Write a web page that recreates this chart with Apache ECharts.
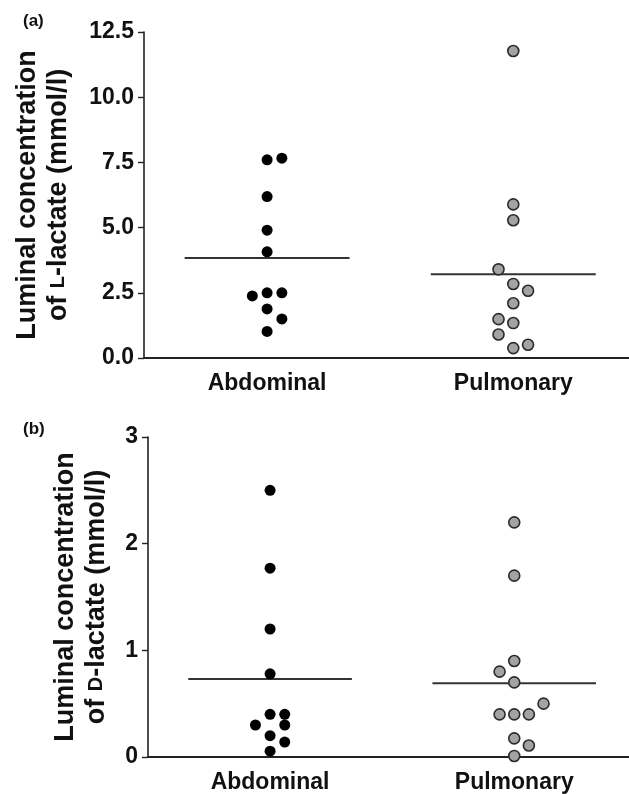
<!DOCTYPE html>
<html>
<head>
<meta charset="utf-8">
<script src="https://cdn.jsdelivr.net/npm/echarts@6/dist/echarts.min.js"></script>
<style>
html,body{margin:0;padding:0;background:#fff;}
#main{width:629px;height:794px;}
</style>
</head>
<body>
<div id="main"></div>
<script>
// ---- data ----
const groups = ['Abdominal', 'Pulmonary'];

// (a) L-lactate (mmol/l); *Col = beeswarm column of each dot (-1 left, 0 centre, +1 right ...)
const lLactateAbdominal    = [7.60, 7.66, 6.19, 4.90, 4.07, 2.38, 2.50, 2.50, 1.88, 1.50, 1.02];
const lLactateAbdominalCol = [0, 1, 0, 0, 0, -1, 0, 1, 0, 1, 0];
const lLactatePulmonary    = [11.77, 5.89, 5.28, 3.40, 2.84, 2.58, 2.10, 1.49, 1.34, 0.90, 0.38, 0.51];
const lLactatePulmonaryCol = [0, 0, 0, -1, 0, 1, 0, -1, 0, -1, 0, 1];

// (b) D-lactate (mmol/l)
const dLactateAbdominal    = [2.50, 1.77, 1.20, 0.78, 0.40, 0.40, 0.30, 0.30, 0.20, 0.14, 0.055];
const dLactateAbdominalCol = [0, 0, 0, 0, 0, 1, -1, 1, 0, 1, 0];
const dLactatePulmonary    = [2.20, 1.70, 0.90, 0.80, 0.70, 0.50, 0.40, 0.40, 0.40, 0.175, 0.108, 0.01];
const dLactatePulmonaryCol = [0, 0, 0, -1, 0, 2, -1, 0, 1, 0, 1, 0];

const yTicksA = [0, 2.5, 5, 7.5, 10, 12.5];
const yTicksB = [0, 1, 2, 3];

// ---- building ----
const COL_STEP = 0.06;      // horizontal spacing of swarm columns (x units)
const MEAN_HALF = 0.335;    // half-width of the mean line (x units)
const FONT = 'Liberation Sans, Arial, Helvetica, sans-serif';

function pts(gi, vals, cols) { return vals.map((v, i) => [gi + cols[i] * COL_STEP, v]); }
function mean(a) { return a.reduce((s, v) => s + v, 0) / a.length; }
function meanLine(gi, vals) { const m = mean(vals); return [[gi - MEAN_HALF, m], [gi + MEAN_HALF, m]]; }

const blackDot = { color: '#000', borderColor: '#000', borderWidth: 0, opacity: 1 };
const greyDot = { color: '#a3a3a3', borderColor: '#2b2b2b', borderWidth: 1.6, opacity: 1 };

function xAxisFor(gridIndex) {
  return {
    type: 'value', gridIndex, min: -0.5, max: 1.47,
    splitLine: { show: false },
    axisLine: { show: true, onZero: false, lineStyle: { color: '#222', width: 2 } },
    axisTick: { show: false },
    axisLabel: {
      customValues: [0, 1],
      formatter: v => groups[Math.round(v)],
      margin: 14, fontSize: 23, fontWeight: 'bold', color: '#111', fontFamily: FONT
    }
  };
}
function yAxisFor(gridIndex, ticks, fmt, name, gap) {
  return {
    type: 'value', gridIndex, min: ticks[0], max: ticks[ticks.length - 1],
    interval: ticks[1] - ticks[0],
    splitLine: { show: false },
    axisLine: { show: true, onZero: false, lineStyle: { color: '#222', width: 1.6 } },
    axisTick: { show: true, length: 6, lineStyle: { color: '#222', width: 1.4 } },
    axisLabel: { formatter: fmt, margin: 10, fontSize: 23, fontWeight: 'bold', color: '#111', fontFamily: FONT },
    name, nameLocation: 'middle', nameGap: gap,
    nameTextStyle: {
      fontSize: 27, fontWeight: 'bold', color: '#111', fontFamily: FONT, lineHeight: 31,
      rich: { sc: { fontSize: 20, fontWeight: 'bold', color: '#111', fontFamily: FONT, lineHeight: 31 } }
    }
  };
}

function scatter(xi, vals, cols, gi, style) {
  return {
    type: 'scatter', xAxisIndex: xi, yAxisIndex: xi, data: pts(gi, vals, cols),
    symbol: 'circle', symbolSize: 11, itemStyle: style, z: 5, clip: true, silent: true
  };
}
function meanSeries(xi, vals, gi) {
  return {
    type: 'line', xAxisIndex: xi, yAxisIndex: xi, data: meanLine(gi, vals),
    symbol: 'none', lineStyle: { color: '#333', width: 2 }, z: 3, silent: true
  };
}

const option = {
  backgroundColor: '#fff',
  animation: false,
  title: [
    { text: '(a)', left: 23, top: 13, padding: 0, textStyle: { fontSize: 17, fontWeight: 'bold', color: '#111', fontFamily: FONT } },
    { text: '(b)', left: 23, top: 421, padding: 0, textStyle: { fontSize: 17, fontWeight: 'bold', color: '#111', fontFamily: FONT } }
  ],
  grid: [
    { left: 144, top: 32, right: 0, height: 326 },
    { left: 148, top: 437, right: 0, height: 325 }
  ],
  xAxis: [xAxisFor(0), xAxisFor(1)],
  yAxis: [
    yAxisFor(0, yTicksA, v => v.toFixed(1), 'Luminal concentration\nof {sc|L}-lactate (mmol/l)', 70),
    yAxisFor(1, yTicksB, v => String(v), 'Luminal concentration\nof {sc|D}-lactate (mmol/l)', 36)
  ],
  series: [
    meanSeries(0, lLactateAbdominal, 0),
    meanSeries(0, lLactatePulmonary, 1),
    scatter(0, lLactateAbdominal, lLactateAbdominalCol, 0, blackDot),
    scatter(0, lLactatePulmonary, lLactatePulmonaryCol, 1, greyDot),
    meanSeries(1, dLactateAbdominal, 0),
    meanSeries(1, dLactatePulmonary, 1),
    scatter(1, dLactateAbdominal, dLactateAbdominalCol, 0, blackDot),
    scatter(1, dLactatePulmonary, dLactatePulmonaryCol, 1, greyDot)
  ]
};

const chart = echarts.init(document.getElementById('main'), null, { renderer: 'canvas' });
chart.setOption(option);
</script>
</body>
</html>
